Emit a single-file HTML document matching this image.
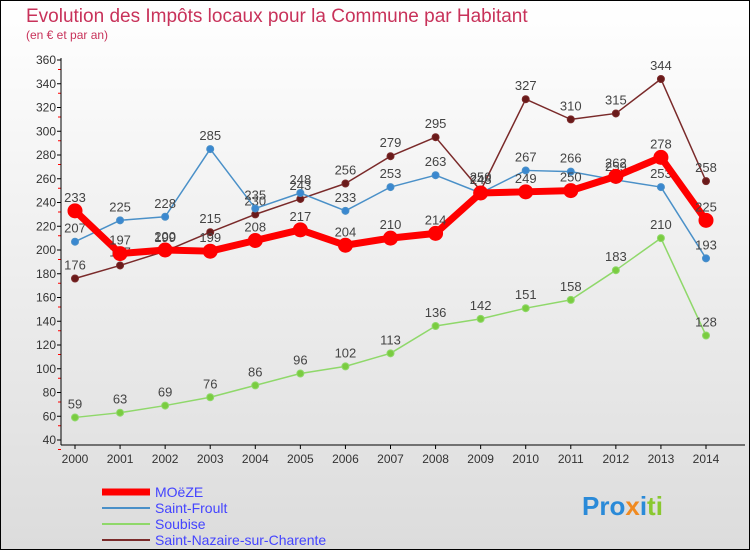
<!DOCTYPE html>
<html><head><meta charset="utf-8"><style>
body{margin:0;font-family:"Liberation Sans",sans-serif}
svg text{font-family:"Liberation Sans",sans-serif}
</style></head><body>
<svg width="750" height="550" viewBox="0 0 750 550">
<defs><linearGradient id="bg" x1="0" y1="0" x2="0" y2="1"><stop offset="0" stop-color="#ffffff"/><stop offset="1" stop-color="#dcdcdc"/></linearGradient></defs>
<rect x="0.5" y="0.5" width="749" height="549" fill="url(#bg)" stroke="#000"/>
<text x="26" y="22" font-size="19" fill="#c8325a">Evolution des Impôts locaux pour la Commune par Habitant</text>
<text x="26" y="39" font-size="12" fill="#c8325a">(en € et par an)</text>
<g id="axes"></g><g id="series"></g>
<g>
<line x1="102" y1="492" x2="150" y2="492" stroke="#f00" stroke-width="7"/>
<text x="155" y="497" font-size="14" fill="#4444ff">MOëZE</text>
<line x1="102" y1="508" x2="150" y2="508" stroke="#4a90c8" stroke-width="2"/>
<text x="155" y="513" font-size="14" fill="#4444ff">Saint-Froult</text>
<line x1="102" y1="524" x2="150" y2="524" stroke="#8fd86a" stroke-width="2"/>
<text x="155" y="529" font-size="14" fill="#4444ff">Soubise</text>
<line x1="102" y1="540" x2="150" y2="540" stroke="#7a2a2a" stroke-width="2"/>
<text x="155" y="545" font-size="14" fill="#4444ff">Saint-Nazaire-sur-Charente</text>
</g>
<text x="582" y="515" font-size="26" font-weight="bold"><tspan fill="#2a8ad8">Pro</tspan><tspan fill="#f08a20">x</tspan><tspan fill="#2a8ad8">i</tspan><tspan fill="#8ac830">ti</tspan></text>
</svg>
<script>
const years=[2000,2001,2002,2003,2004,2005,2006,2007,2008,2009,2010,2011,2012,2013,2014];
const moeze=[233,197,200,199,208,217,204,210,214,248,249,250,262,278,225];
const froult=[207,225,228,285,235,248,233,253,263,248,267,266,259,253,193];
const soubise=[59,63,69,76,86,96,102,113,136,142,151,158,183,210,128];
const nazaire=[176,187,199,215,230,243,256,279,295,250,327,310,315,344,258];
const yTicks=[40,60,80,100,120,140,160,180,200,220,240,260,280,300,320,340,360];
const NS='http://www.w3.org/2000/svg';
const X=i=>75+i*(631/14), Y=v=>440-(v-40)*380/320;
function mk(t,a,p){const e=document.createElementNS(NS,t);for(const k in a)e.setAttribute(k,a[k]);p.appendChild(e);return e;}
const ax=document.getElementById('axes'), sr=document.getElementById('series');
yTicks.forEach(v=>{
mk('line',{x1:57,x2:61,y1:Y(v),y2:Y(v),stroke:'#000'},ax);
mk('line',{x1:58,x2:61,y1:Y(v)+9.5,y2:Y(v)+9.5,stroke:'#f00'},ax);
const t=mk('text',{x:56,y:Y(v)+4,'font-size':12,'text-anchor':'end',fill:'#333'},ax);t.textContent=v;

});
mk('line',{x1:61,x2:61,y1:58,y2:445,stroke:'#000'},ax);
mk('line',{x1:61,x2:745,y1:445,y2:445,stroke:'#000'},ax);
years.forEach((y,i)=>{mk('line',{x1:X(i),x2:X(i),y1:445,y2:449,stroke:'#000'},ax);
const t=mk('text',{x:X(i),y:463,'font-size':12,'text-anchor':'middle',fill:'#333'},ax);t.textContent=y;

});
function series(d,name,col,w,r,dot){const g=mk('g',{},sr);


mk('polyline',{points:d.map((v,i)=>X(i)+','+Y(v)).join(' '),fill:'none',stroke:col,'stroke-width':w,'stroke-linejoin':'round'},g);
d.forEach((v,i)=>{const c=mk('circle',{cx:X(i),cy:Y(v),r:r,fill:dot,stroke:col,'stroke-width':1},g);


const t=mk('text',{x:X(i),y:Y(v)-9,'font-size':13,'text-anchor':'middle',fill:'#444'},g);t.textContent=v;

});}
series(soubise,'soubise','#8fd86a',1.5,3.5,'#7acc40');
series(nazaire,'saint-nazaire','#7a2a2a',1.5,3.5,'#6a1a1a');
series(froult,'saint-froult','#4a90c8',1.5,3.5,'#3a88d0');
series(moeze,'moeze','#f00',7,7,'#f00');
</script>
</body></html>
